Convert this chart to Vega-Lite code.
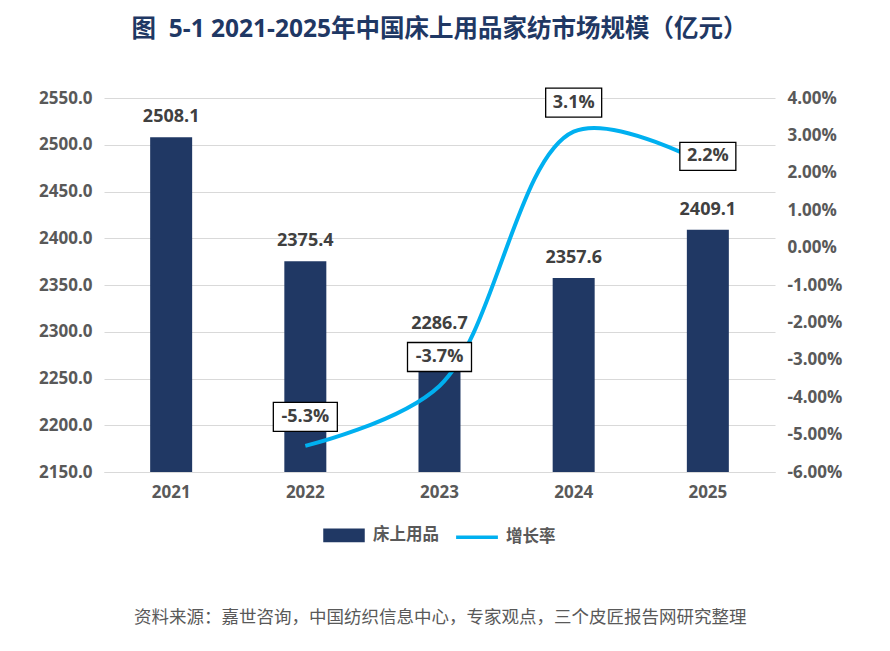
{
  "$schema": "https://vega.github.io/schema/vega-lite/v6.json",
  "background": "white",
  "padding": {"left": 38, "top": 17, "right": 20, "bottom": 10},
  "config": {
    "font": "Open Sans, Noto Sans CJK SC",
    "locale": {"number": {"decimal": ".", "thousands": ",", "grouping": [3], "currency": ["", ""], "minus": "-"}},
    "view": {"stroke": null},
    "legend": {"layout": {"bottom": {"anchor": "middle"}}},
    "axis": {"labelFont": "Open Sans, Noto Sans CJK SC", "labelFontSize": 17, "labelFontWeight": "bold", "labelColor": "#595959", "ticks": false, "domain": false, "title": null}
  },
  "title": {"text": "资料来源：嘉世咨询，中国纺织信息中心，专家观点，三个皮匠报告网研究整理", "orient": "bottom", "fontSize": 17.5, "fontWeight": "normal", "color": "#595959", "offset": 61, "anchor": "middle", "font": "Noto Sans CJK SC"},
  "vconcat": [
    {
      "title": {"text": "图\u00a0\u00a05-1 2021-2025年中国床上用品家纺市场规模（亿元）", "fontSize": 24.5, "fontWeight": "bold", "color": "#1F3864", "offset": 43, "anchor": "middle", "frame": "group", "font": "Open Sans, Noto Sans CJK SC"},
      "width": 671,
      "height": 374,
      "data": {"values": [
        {"year": "2021", "sales": 2508.1, "rate": null},
        {"year": "2022", "sales": 2375.4, "rate": -0.053},
        {"year": "2023", "sales": 2286.7, "rate": -0.037},
        {"year": "2024", "sales": 2357.6, "rate": 0.031},
        {"year": "2025", "sales": 2409.1, "rate": 0.022}
      ]},
      "encoding": {
        "x": {"field": "year", "type": "nominal", "sort": null,
          "scale": {"paddingInner": 0.687, "paddingOuter": 0.344},
          "axis": {"labelAngle": 0, "labelPadding": 12, "domain": true, "domainColor": "#D9D9D9", "domainWidth": 1}}
      },
      "layer": [
        {
          "encoding": {
            "y": {"field": "sales", "type": "quantitative",
              "scale": {"domain": [2150, 2550], "zero": false, "nice": false},
              "axis": {"orient": "left", "values": [2150, 2200, 2250, 2300, 2350, 2400, 2450, 2500, 2550], "format": ".1f", "grid": true, "gridColor": "#D9D9D9", "labelPadding": 12}}
          },
          "layer": [
            {
              "mark": {"type": "bar", "color": "#203864"},
              "encoding": {
                "y2": {"datum": 2150},
                "color": {"datum": "床上用品", "type": "nominal",
                  "scale": {"domain": ["床上用品", "增长率"], "range": ["#203864", "#00B0F0"]},
                  "legend": {"orient": "bottom", "direction": "horizontal", "title": null,
                    "labelFontSize": 16.5, "labelFontWeight": "bold", "labelColor": "#595959",
                    "symbolSize": 1444, "labelOffset": 8, "columnPadding": 10, "offset": 14,
                    "encode": {"symbols": {"update": {
                      "shape": {"signal": "datum.value === '增长率' ? 'M-1.1,0L1.1,0' : 'M-1,-0.27L1,-0.27L1,0.27L-1,0.27Z'"},
                      "fill": {"signal": "datum.value === '增长率' ? 'transparent' : '#203864'"},
                      "stroke": {"signal": "datum.value === '增长率' ? '#00B0F0' : 'transparent'"},
                      "strokeWidth": {"value": 3.5},
                      "opacity": {"value": 1}
                    }}}}
                }
              }
            },
            {
              "mark": {"type": "text", "baseline": "alphabetic", "dy": -15, "fontSize": 18, "fontWeight": "bold", "color": "#404040"},
              "encoding": {
                "text": {"field": "sales", "type": "quantitative", "format": ".1f"}
              }
            }
          ]
        },
        {
          "transform": [{"filter": "isValid(datum.rate)"}],
          "encoding": {
            "y": {"field": "rate", "type": "quantitative",
              "scale": {"domain": [-0.06, 0.04], "zero": false, "nice": false},
              "axis": {"orient": "right", "values": [-0.06, -0.05, -0.04, -0.03, -0.02, -0.01, 0, 0.01, 0.02, 0.03, 0.04], "format": ".2%", "grid": false, "labelPadding": 12}}
          },
          "layer": [
            {
              "mark": {"type": "line", "interpolate": "catmull-rom", "strokeWidth": 4},
              "encoding": {
                "color": {"datum": "增长率", "type": "nominal"}
              }
            },
            {
              "mark": {"type": "point", "filled": true, "fill": "white", "stroke": "#000000", "strokeWidth": 1.3, "size": 4, "opacity": 1},
              "encoding": {
                "shape": {"field": "year", "type": "nominal", "legend": null,
                  "scale": {"domain": ["2022", "2023", "2024", "2025"],
                    "range": ["M-32,-43.5L32,-43.5L32,-14.5L-32,-14.5Z", "M-32,-43.5L32,-43.5L32,-14.5L-32,-14.5Z", "M-28,-43.5L28,-43.5L28,-14.5L-28,-14.5Z", "M-28,-23L28,-23L28,5L-28,5Z"]}}
              }
            },
            {
              "transform": [{"filter": "datum.year !== '2025'"}],
              "mark": {"type": "text", "baseline": "middle", "dy": -29, "fontSize": 18, "fontWeight": "bold", "color": "#404040"},
              "encoding": {
                "text": {"field": "rate", "type": "quantitative", "format": ".1%"}
              }
            },
            {
              "transform": [{"filter": "datum.year === '2025'"}],
              "mark": {"type": "text", "baseline": "middle", "dy": -9, "fontSize": 18, "fontWeight": "bold", "color": "#404040"},
              "encoding": {
                "text": {"field": "rate", "type": "quantitative", "format": ".1%"}
              }
            }
          ]
        }
      ],
      "resolve": {"scale": {"y": "independent"}}
    }
  ]
}
